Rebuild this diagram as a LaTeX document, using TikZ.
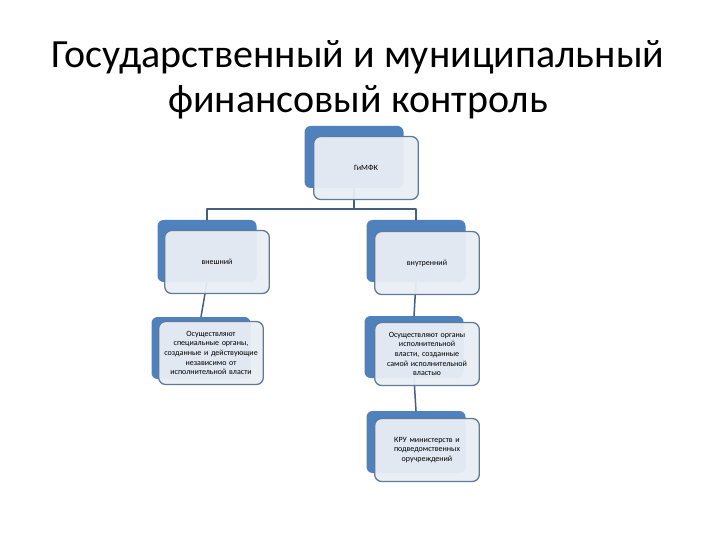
\documentclass[tikz,border=0pt]{standalone}
\usepackage{fontspec}
\setmainfont{Carlito}
\begin{document}
\begin{tikzpicture}[
	x=1pt,
	y=-1pt,
	line cap=round,
	line join=round,
	every node/.style={align=center},
	backbox/.style={
		shape=rectangle,
		rounded corners=6pt,
		minimum width=99pt,
		minimum height=62pt,
		fill={rgb,255:red,79;green,129;blue,189}
	},
	frontbox/.style={
		shape=rectangle,
		rounded corners=7pt,
		minimum width=102pt,
		minimum height=63pt,
		text width=98pt,
		line width=1.3pt,
		draw={rgb,255:red,96;green,122;blue,152},
		fill={rgb,255:red,233;green,238;blue,245},
		fill opacity=0.95,
		text opacity=1,
		font=\fontsize{8}{9.6}\selectfont
	},
	link/.style={
		line width=1.5pt,
		draw={rgb,255:red,68;green,96;blue,127}
	}
	]
	\useasboundingbox[fill=white] (0,0) rectangle (720,540);
	% title
	\node [anchor=base, font=\fontsize{40}{45}\selectfont] (title1) at (358,68)
		{Государственный и муниципальный};
	\node [anchor=base, font=\fontsize{40}{45}\selectfont] (title2) at (358,113)
		{финансовый контроль};
	% back boxes
	\foreach \name/\x/\y in {gmfk/354/157, ext/207/251, int/416/251,
		extd/201/348, intd/414/347, kru/416/442}{
		\node [backbox] (\name-b) at (\x,\y) {};
	}
	% connectors
	\coordinate (fork) at (354,209);
	\draw [link] (gmfk-b.south) -- (fork);
	\draw [link] (ext-b.north) |- (fork) -| (int-b.north);
	\draw [link] (ext-b.south) -- (extd-b.north);
	\draw [link] (int-b.south) -- (intd-b.north);
	\draw [link] (intd-b.south) -- (kru-b.north);
	% front boxes
	\foreach \name/\x/\y/\txt in {gmfk/366/168/{ГиМФК},
		ext/217/262/{внешний},
		int/427/263/{внутренний},
		extd/211/353/{Осуществляют\\специальные органы,\\созданные и действующие\\независимо от\\исполнительной власти},
		intd/427/354/{Осуществляют органы\\исполнительной\\власти, созданные\\самой исполнительной\\властью},
		kru/427/450/{КРУ министерств и\\подведомственных\\оручреждений}}{
		\node [frontbox] (\name) at (\x,\y) {\txt};
	}
\end{tikzpicture}
\end{document}
